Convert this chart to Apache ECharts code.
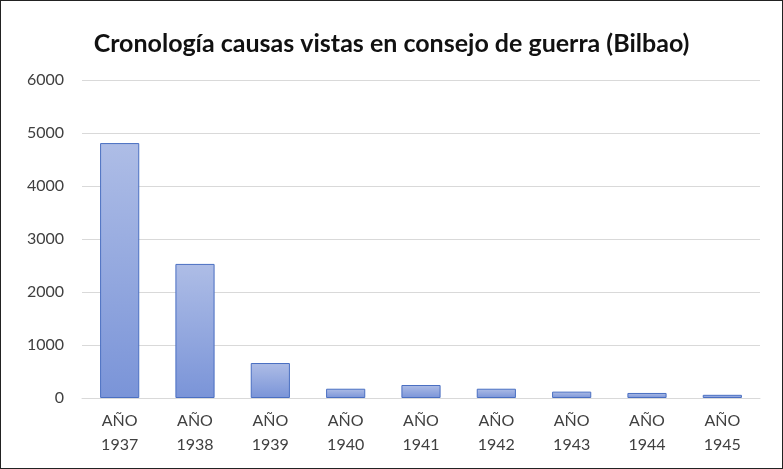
<!DOCTYPE html>
<html>
<head>
<meta charset="utf-8">
<script src="https://cdn.jsdelivr.net/npm/echarts@6/dist/echarts.min.js"></script>
<style>
    html, body { margin: 0; padding: 0; background: #fff; }
    #chart { width: 781px; height: 467px; border: 1px solid #222; }
</style>
</head>
<body>
<div id="chart"></div>
<script>
// datos
var categories = ['AÑO\n1937', 'AÑO\n1938', 'AÑO\n1939', 'AÑO\n1940', 'AÑO\n1941', 'AÑO\n1942', 'AÑO\n1943', 'AÑO\n1944', 'AÑO\n1945'];
var causas = [4810, 2530, 660, 175, 245, 175, 120, 95, 60];
var yTicks = [0, 1000, 2000, 3000, 4000, 5000, 6000];

var myChart = echarts.init(document.getElementById('chart'));
var option = {
    animation: false,
    title: {
        text: 'Cronología causas vistas en consejo de guerra (Bilbao)',
        left: 'center',
        top: 25,
        textStyle: {
            fontFamily: 'Lato',
            fontSize: 25,
            fontWeight: 'bold',
            color: '#111'
        }
    },
    grid: {
        left: 81,
        right: 22,
        top: 79,
        bottom: 70
    },
    xAxis: {
        type: 'category',
        data: categories,
        axisTick: { show: false },
        axisLine: { lineStyle: { color: '#d9d9d9' } },
        axisLabel: {
            color: '#404040',
            fontFamily: 'Lato',
            fontSize: 16,
            lineHeight: 24,
            margin: 11
        }
    },
    yAxis: {
        type: 'value',
        min: yTicks[0],
        max: yTicks[yTicks.length - 1],
        interval: 1000,
        axisLine: { show: false },
        axisTick: { show: false },
        splitLine: { lineStyle: { color: '#d9d9d9' } },
        axisLabel: {
            color: '#404040',
            fontFamily: 'Lato',
            fontSize: 16,
            margin: 18,
            formatter: function (v) { return String(v); }
        }
    },
    series: [{
        name: 'Causas',
        type: 'bar',
        data: causas,
        barWidth: '52%',
        itemStyle: {
            color: new echarts.graphic.LinearGradient(0, 0, 0, 1, [
                { offset: 0, color: '#aebde6' },
                { offset: 1, color: '#7a94d8' }
            ]),
            borderColor: '#4a6fc2',
            borderWidth: 1
        }
    }]
};
myChart.setOption(option);
</script>
</body>
</html>
